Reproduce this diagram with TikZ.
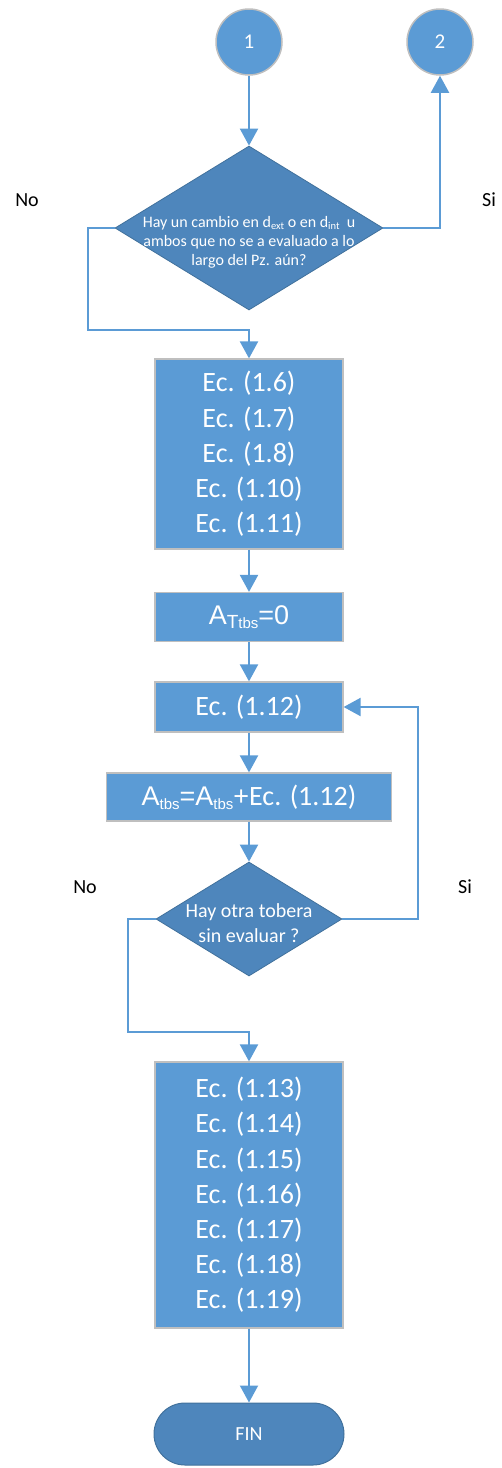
\documentclass[tikz,border=0pt]{standalone}
\usepackage{fontspec}
\setmainfont{Carlito}
\newfontfamily\arial{Liberation Sans}
\usetikzlibrary{arrows.meta,shapes.geometric,calc}
\definecolor{boxblue}{HTML}{5B9BD5}
\definecolor{darkblue}{HTML}{4E86BC}
\definecolor{edgeblue}{HTML}{41719C}
\definecolor{greyline}{HTML}{BFBFBF}
\newcommand{\lowsub}[2]{\raisebox{-0.3ex}{\fontsize{#1}{#1}\selectfont #2}}
\tikzset{
  box/.style={rectangle, draw=greyline, line width=1.2pt, fill=boxblue, text=white, inner sep=0pt, align=center},
  decide/.style={diamond, draw=edgeblue, line width=0.8pt, fill=darkblue, inner sep=0pt},
  conn/.style={circle, draw=greyline, line width=1.5pt, fill=boxblue, text=white, minimum size=66pt, inner sep=0pt, font=\fontsize{21}{24}\selectfont},
  flow/.style={draw=boxblue, line width=2pt, -{Triangle[length=17pt,width=18pt]}},
  lbl/.style={text=black, font=\fontsize{20}{24}\selectfont},
  eq/.style={font=\fontsize{28}{35.2}\selectfont}
}
\begin{document}
\begin{tikzpicture}[x=1pt,y=-1pt]
\useasboundingbox (0,0) rectangle (501,1468);
% connectors circles
\node[conn] (c1) at (249,42) {1};
\node[conn] (c2) at (440,42) {2};
% first decision
\node[decide, minimum width=268pt, minimum height=164pt] (d1) at (249,228) {};
\node[text=white, align=center, font=\fontsize{16}{19}\selectfont] (d1t) at (249,242)
  {Hay un cambio en d\lowsub{10.5}{ext} o en d\lowsub{10.5}{int}\ \ u\\ambos que no se a evaluado a lo\\largo del Pz. aún?};
% boxes
\node[box, eq, minimum width=188pt, minimum height=190pt] (b1) at (249,454)
  {Ec. (1.6)\\Ec. (1.7)\\Ec. (1.8)\\Ec. (1.10)\\Ec. (1.11)};
\node[box, minimum width=188pt, minimum height=49pt] (b2) at (249,617)
  {\arial\fontsize{27}{30}\selectfont A\lowsub{19}{T\fontsize{15}{15}\selectfont tbs}=0};
\node[box, eq, minimum width=188pt, minimum height=50pt] (b3) at (249,707) {Ec. (1.12)};
\node[box, minimum width=285pt, minimum height=48pt] (b4) at (249,797)
  {{\arial\fontsize{27}{30}\selectfont A\lowsub{15}{tbs}=A\lowsub{15}{tbs}+}{\fontsize{28}{30}\selectfont Ec. (1.12)}};
% second decision
\node[decide, minimum width=186pt, minimum height=114pt] (d2) at (249,919) {};
\node[text=white, align=center, font=\fontsize{20}{25}\selectfont] (d2t) at (249,923)
  {Hay otra tobera\\sin evaluar ?};
\node[box, eq, minimum width=188pt, minimum height=266pt] (b5) at (249,1195)
  {Ec. (1.13)\\Ec. (1.14)\\Ec. (1.15)\\Ec. (1.16)\\Ec. (1.17)\\Ec. (1.18)\\Ec. (1.19)};
\node[rectangle, rounded corners=31pt, draw=edgeblue, line width=1pt, fill=darkblue, text=white,
  minimum width=190pt, minimum height=62pt, font=\fontsize{20}{22}\selectfont] (fin) at (249,1434) {FIN};
% labels
\node[lbl] (no1) at (27,200) {No};
\node[lbl] (si1) at (489,200) {Si};
\node[lbl] (no2) at (85,887) {No};
\node[lbl] (si2) at (465,887) {Si};
% bend coordinates
\coordinate (k1) at (88,330);
\coordinate (k2) at (418,707);
\coordinate (k3) at (128,1032);
% connectors
\draw[flow] (c1.south) -- (d1.north);
\draw[flow] (d1.east) -| (c2.south);
\draw[flow] (d1.west) -| (k1) -| (b1.north);
\draw[flow] (b1.south) -- (b2.north);
\draw[flow] (b2.south) -- (b3.north);
\draw[flow] (b3.south) -- (b4.north);
\draw[flow] (b4.south) -- (d2.north);
\draw[flow] (d2.east) -| (k2) -- (b3.east);
\draw[flow] (d2.west) -| (k3) -| (b5.north);
\draw[flow] (b5.south) -- (fin.north);
\end{tikzpicture}
\end{document}
